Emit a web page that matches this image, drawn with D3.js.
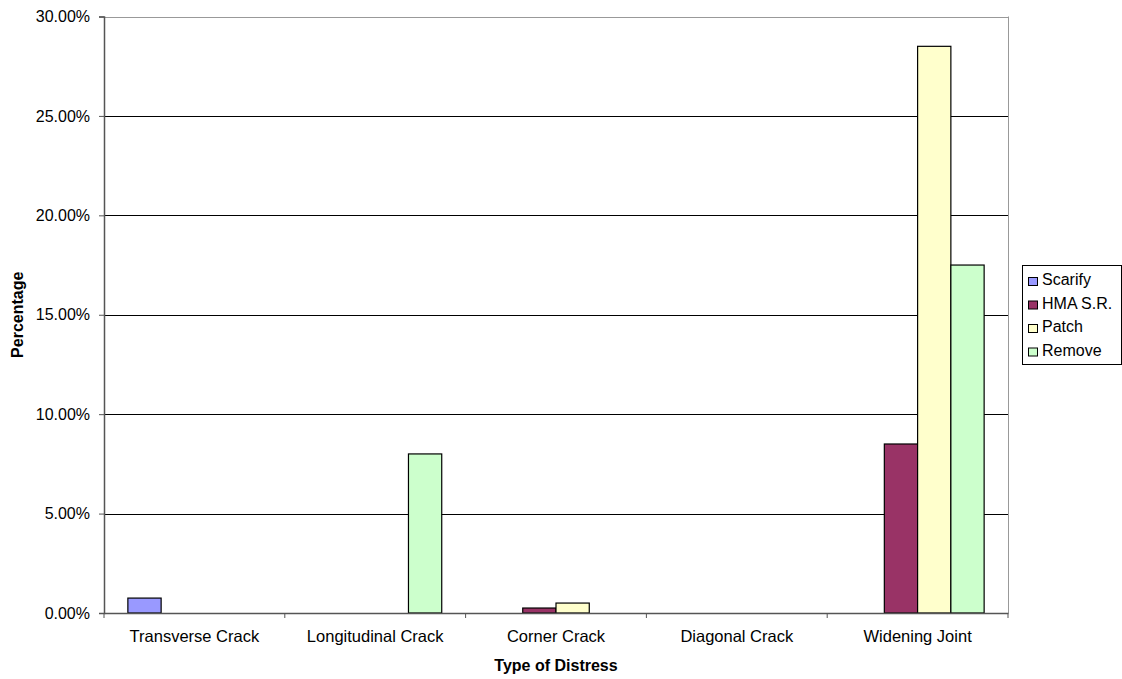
<!DOCTYPE html>
<html><head><meta charset="utf-8">
<script src="https://cdn.jsdelivr.net/npm/d3@7"></script>
<style>body{margin:0;background:#fff;} svg{display:block;font-family:"Liberation Sans",Arial,sans-serif;}</style>
</head><body>
<svg id="c" width="1122" height="679"></svg>
<script>
const categories = ["Transverse Crack","Longitudinal Crack","Corner Crack","Diagonal Crack","Widening Joint"];
const seriesNames = ["Scarify","HMA S.R.","Patch","Remove"];
const scarify = [0.0075, 0, 0, 0, 0];
const hmaSR   = [0, 0, 0.0025, 0, 0.085];
const patch   = [0, 0, 0.005, 0, 0.285];
const remove  = [0, 0.08, 0, 0, 0.175];
const colors = ["#9999FF","#993366","#FFFFCC","#CCFFCC"];
const yTicks = [0,0.05,0.10,0.15,0.20,0.25,0.30];

const seriesVals = [scarify,hmaSR,patch,remove];
const svg = d3.select("#c");
const FONT = "Liberation Sans, Arial, sans-serif";
const L=104, R=1008, T=16.5, B=613;
const x = d3.scaleBand().domain(categories).range([L,R]).paddingInner(0.264).paddingOuter(0.132);
const x1 = d3.scaleBand().domain(seriesNames).range([0,x.bandwidth()]);
const xc = d3.scaleBand().domain(categories).range([L,R]);
const y = d3.scaleLinear().domain([0,0.30]).range([B,T]);

// gridlines
svg.append("g").selectAll("line").data(yTicks.slice(1)).join("line")
  .attr("x1",L).attr("x2",R).attr("y1",d=>Math.round(y(d))+0.5).attr("y2",d=>Math.round(y(d))+0.5)
  .attr("stroke","#000").attr("stroke-width",1);
// plot border right/top
svg.append("line").attr("x1",R+0.5).attr("x2",R+0.5).attr("y1",T).attr("y2",B).attr("stroke","#999");
svg.append("line").attr("x1",L).attr("x2",R).attr("y1",Math.round(T)+0.5).attr("y2",Math.round(T)+0.5).attr("stroke","#999");

// bars
seriesNames.forEach((s,i)=>{
  svg.append("g").selectAll("rect").data(categories.map((c,j)=>({c,v:seriesVals[i][j]})).filter(d=>d.v>0)).join("rect")
    .attr("x",d=>x(d.c)+x1(s)).attr("width",x1.bandwidth())
    .attr("y",d=>y(d.v)).attr("height",d=>B-y(d.v))
    .attr("fill",colors[i]).attr("stroke","#000").attr("stroke-width",1.2);
});

// y axis
const ya = svg.append("g").attr("transform",`translate(${L},0)`)
  .call(d3.axisLeft(y).tickValues(yTicks).tickFormat(d3.format(".2%")).tickSize(5).tickPadding(9));
ya.select(".domain").attr("stroke","#555").attr("stroke-width",1.5);
ya.selectAll(".tick line").attr("stroke","#555");
ya.selectAll("text").attr("font-size",16).attr("fill","#000").style("font-family",FONT);

// x axis
const xa = svg.append("g").attr("transform",`translate(0,${B})`)
  .call(d3.axisBottom(xc).tickSize(0).tickPadding(17));
xa.select(".domain").attr("stroke","#555").attr("stroke-width",1.5);
xa.selectAll("text").attr("font-size",16.5).attr("fill","#000").style("font-family",FONT);
svg.append("g").selectAll("line").data(d3.range(categories.length+1)).join("line")
  .attr("x1",i=>L+i*(R-L)/categories.length).attr("x2",i=>L+i*(R-L)/categories.length)
  .attr("y1",B).attr("y2",B+5).attr("stroke","#555");

// axis titles
svg.append("text").attr("x",(L+R)/2).attr("y",671).attr("text-anchor","middle")
  .attr("font-size",16).attr("font-weight","bold").text("Type of Distress");
svg.append("text").attr("transform",`translate(23,${(T+B)/2}) rotate(-90)`).attr("text-anchor","middle")
  .attr("font-size",16).attr("font-weight","bold").text("Percentage");

// legend
const lg = svg.append("g");
lg.append("rect").attr("x",1022.5).attr("y",265.5).attr("width",99).attr("height",99)
  .attr("fill","#fff").attr("stroke","#000");
seriesNames.forEach((s,i)=>{
  const yy = 285 + i*23.5;
  lg.append("rect").attr("x",1028.5).attr("y",yy-7.5).attr("width",9).attr("height",8)
    .attr("fill",colors[i]).attr("stroke","#000");
  lg.append("text").attr("x",1042).attr("y",yy).attr("font-size",16).text(s);
});
</script>
</body></html>
